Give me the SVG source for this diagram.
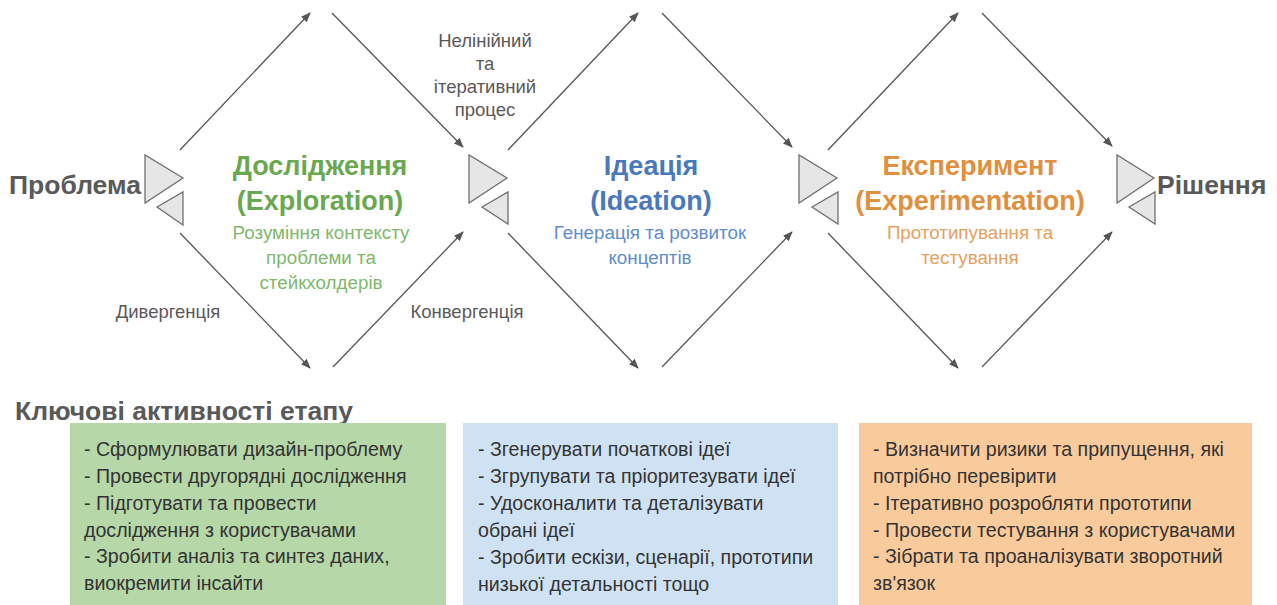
<svg xmlns="http://www.w3.org/2000/svg" width="1277" height="605" viewBox="0 0 1277 605">
<defs>
<style>
text{font-family:"Liberation Sans",Arial,sans-serif}
.tri{fill:#e6e6e6;stroke:#707070;stroke-width:1.3}
.arr{stroke:#555;stroke-width:1.3;fill:none;marker-end:url(#ah)}
.end{font-size:26.5px;font-weight:bold;fill:#595959}
.lbl{font-size:18.5px;fill:#595959;text-anchor:middle}
.t{font-size:27px;font-weight:bold;text-anchor:middle}
.s{font-size:18.8px;text-anchor:middle}
.g{fill:#6aa84f}.gs{fill:#7fb86a}
.b{fill:#4a78bd}.bs{fill:#5f8ccb}
.o{fill:#e08f3c}.os{fill:#e6a060}
.box{font-size:19.6px;fill:#333}
</style>
<marker id="ah" markerWidth="10" markerHeight="8" refX="9" refY="4" orient="auto" markerUnits="userSpaceOnUse">
<path d="M0,0 L10,4 L0,8 Z" fill="#555"/>
</marker>
</defs>
<rect width="1277" height="605" fill="#fff"/>

<g id="connectors">
<line class="arr" x1="180" y1="150" x2="310" y2="13"/>
<line class="arr" x1="332" y1="13" x2="463" y2="147"/>
<line class="arr" x1="180" y1="233" x2="310" y2="368"/>
<line class="arr" x1="333" y1="367" x2="463" y2="232"/>
<line class="arr" x1="508" y1="150" x2="638" y2="13"/>
<line class="arr" x1="662" y1="13" x2="792" y2="147"/>
<line class="arr" x1="508" y1="233" x2="638" y2="368"/>
<line class="arr" x1="662" y1="367" x2="792" y2="232"/>
<line class="arr" x1="828" y1="150" x2="958" y2="13"/>
<line class="arr" x1="982" y1="13" x2="1112" y2="146"/>
<line class="arr" x1="828" y1="233" x2="958" y2="368"/>
<line class="arr" x1="982" y1="367" x2="1112" y2="232"/>
</g>

<g id="node-start">
<polygon class="tri" points="145,155 145,203 183,178"/>
<polygon class="tri" points="183,192 183,225 157,207"/>
<text class="end" x="141" y="194" text-anchor="end">Проблема</text>
</g>
<g id="node-junction-1">
<polygon class="tri" points="469,155 469,203 507,178"/>
<polygon class="tri" points="508,192 508,224 482,207"/>
</g>
<g id="node-junction-2">
<polygon class="tri" points="799,155 799,203 837,178"/>
<polygon class="tri" points="838,192 838,224 812,207"/>
</g>
<g id="node-end">
<polygon class="tri" points="1117,155 1117,203 1154,178"/>
<polygon class="tri" points="1155,192 1155,224 1129,207"/>
<text class="end" x="1157" y="194">Рішення</text>
</g>

<g id="labels">
<text class="lbl" x="168" y="318">Дивергенція</text>
<text class="lbl" x="467" y="318">Конвергенція</text>
<text class="lbl" x="485" y="47">Нелінійний</text>
<text class="lbl" x="485" y="70">та</text>
<text class="lbl" x="485" y="93">ітеративний</text>
<text class="lbl" x="485" y="116">процес</text>
</g>

<g id="node-exploration">
<text class="t g" x="320" y="175">Дослідження</text>
<text class="t g" x="320" y="210">(Exploration)</text>
<text class="s gs" x="321" y="239">Розуміння контексту</text>
<text class="s gs" x="321" y="264">проблеми та</text>
<text class="s gs" x="321" y="289">стейкхолдерів</text>
</g>
<g id="node-ideation">
<text class="t b" x="651" y="175">Ідеація</text>
<text class="t b" x="651" y="210">(Ideation)</text>
<text class="s bs" x="650" y="239">Генерація та розвиток</text>
<text class="s bs" x="650" y="264">концептів</text>
</g>
<g id="node-experimentation">
<text class="t o" x="970" y="175">Експеримент</text>
<text class="t o" x="970" y="210">(Experimentation)</text>
<text class="s os" x="970" y="239">Прототипування та</text>
<text class="s os" x="970" y="264">тестування</text>
</g>

<g id="heading">
<text x="15" y="420" font-size="26.5" font-weight="bold" fill="#595959">Ключові активності етапу</text>
</g>

<g id="box-exploration">
<rect x="70" y="423" width="376" height="182" fill="#b6d7a8"/>
<text class="box" x="84" y="456">- Сформулювати дизайн-проблему</text>
<text class="box" x="84" y="483">- Провести другорядні дослідження</text>
<text class="box" x="84" y="510">- Підготувати та провести</text>
<text class="box" x="84" y="537">дослідження з користувачами</text>
<text class="box" x="84" y="563">- Зробити аналіз та синтез даних,</text>
<text class="box" x="84" y="590">виокремити інсайти</text>
</g>
<g id="box-ideation">
<rect x="463" y="423" width="375" height="182" fill="#cfe2f3"/>
<text class="box" x="478" y="456">- Згенерувати початкові ідеї</text>
<text class="box" x="478" y="483">- Згрупувати та пріоритезувати ідеї</text>
<text class="box" x="478" y="510">- Удосконалити та деталізувати</text>
<text class="box" x="478" y="537">обрані ідеї</text>
<text class="box" x="478" y="564">- Зробити ескізи, сценарії, прототипи</text>
<text class="box" x="478" y="591">низької детальності тощо</text>
</g>
<g id="box-experimentation">
<rect x="859" y="423" width="393" height="182" fill="#f9cb9c"/>
<text class="box" x="873" y="456">- Визначити ризики та припущення, які</text>
<text class="box" x="873" y="483">потрібно перевірити</text>
<text class="box" x="873" y="510">- Ітеративно розробляти прототипи</text>
<text class="box" x="873" y="537">- Провести тестування з користувачами</text>
<text class="box" x="873" y="563">- Зібрати та проаналізувати зворотний</text>
<text class="box" x="873" y="590">зв'язок</text>
</g>
</svg>
